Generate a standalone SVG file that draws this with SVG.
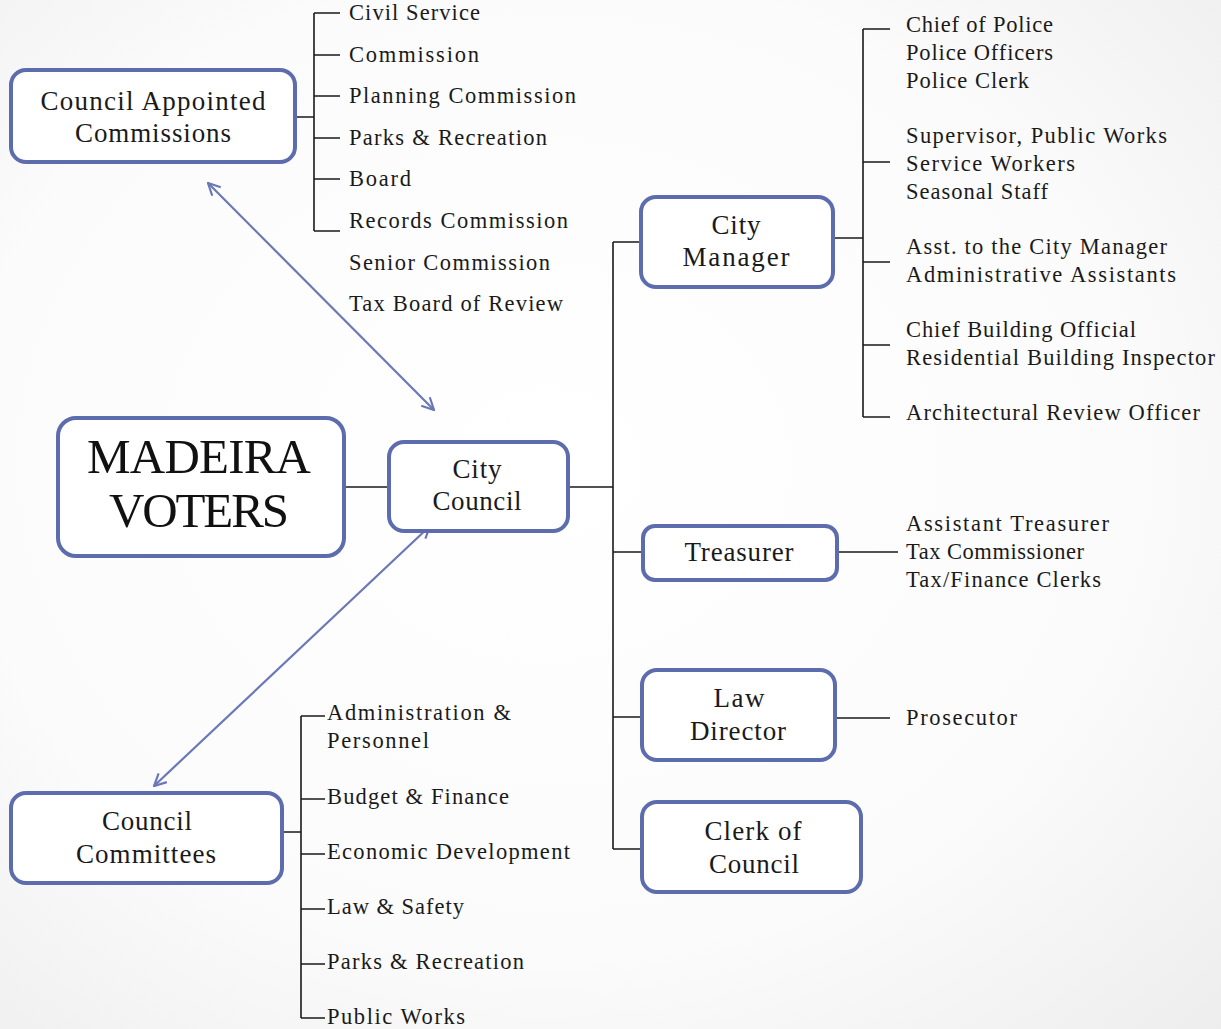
<svg xmlns="http://www.w3.org/2000/svg" width="1221" height="1029" viewBox="0 0 1221 1029">
<defs>
<radialGradient id="bg" cx="0.45" cy="0.45" r="0.8">
<stop offset="0" stop-color="#ffffff"/>
<stop offset="0.6" stop-color="#fbfbfb"/>
<stop offset="1" stop-color="#ececec"/>
</radialGradient>
<marker id="ah" viewBox="0 0 14 14" refX="13" refY="7" markerWidth="14" markerHeight="14" markerUnits="userSpaceOnUse" orient="auto-start-reverse">
<path d="M1,1 L13,7 L1,13" fill="none" stroke="#6a78b8" stroke-width="2.2"/>
</marker>
</defs>
<style>
.box{fill:#ffffff;stroke:#5d6cad;stroke-width:4}
.lbl{font-family:"Liberation Serif","DejaVu Serif",serif;font-size:27px;fill:#1a1a1a;text-anchor:middle}
.big{font-family:"Liberation Serif","DejaVu Serif",serif;font-size:49px;fill:#111;text-anchor:middle}
.it{font-family:"Liberation Serif","DejaVu Serif",serif;font-size:22.5px;fill:#1a1a1a}
.ln{stroke:#1a1a1a;stroke-width:1.6;fill:none}
.arr{stroke:#6a78b8;stroke-width:2.2;fill:none}
</style>
<rect x="0" y="0" width="1221" height="1029" fill="url(#bg)"/>

<g id="connectors">
<path class="ln" d="M345,487 H388"/>
<path class="ln" d="M569,487 H613 M613,242 V849 M613,242 H640 M613,552 H642 M613,717 H641 M613,849 H641"/>
<path class="ln" d="M834,238 H863 M863,29 V417 M863,29 H890 M863,162 H890 M863,262 H890 M863,345 H890 M863,417 H890"/>
<path class="ln" d="M838,552 H898"/>
<path class="ln" d="M836,718 H890"/>
<path class="ln" d="M296,117 H314 M314,13 V231 M314,13 H340 M314,55 H340 M314,96 H340 M314,138 H340 M314,179 H340 M314,231 H340"/>
<path class="ln" d="M283,832 H301 M301,716 V1018 M301,716 H325 M301,799 H325 M301,854 H325 M301,909 H325 M301,964 H325 M301,1018 H325"/>
<path class="arr" d="M208,183 L434,410" marker-start="url(#ah)" marker-end="url(#ah)"/>
<path class="arr" d="M430,526 L154,786" marker-start="url(#ah)" marker-end="url(#ah)"/>
</g>

<g id="council-appointed-commissions">
<rect class="box" x="11" y="70" width="284" height="92" rx="15"/>
<text class="lbl" x="153" y="110" textLength="225" lengthAdjust="spacing">Council  Appointed</text>
<text class="lbl" x="153" y="142" textLength="156" lengthAdjust="spacing">Commissions</text>
</g>
<g id="commissions-list">
<text class="it" x="349" y="20" textLength="131" lengthAdjust="spacing">Civil Service</text>
<text class="it" x="349" y="62" textLength="130" lengthAdjust="spacing">Commission</text>
<text class="it" x="349" y="103" textLength="227" lengthAdjust="spacing">Planning Commission</text>
<text class="it" x="349" y="145" textLength="198" lengthAdjust="spacing">Parks &amp; Recreation</text>
<text class="it" x="349" y="186" textLength="62" lengthAdjust="spacing">Board</text>
<text class="it" x="349" y="228" textLength="219" lengthAdjust="spacing">Records Commission</text>
<text class="it" x="349" y="270" textLength="201" lengthAdjust="spacing">Senior Commission</text>
<text class="it" x="349" y="311" textLength="214" lengthAdjust="spacing">Tax Board of Review</text>
</g>

<g id="madeira-voters">
<rect class="box" x="58" y="418" width="286" height="138" rx="18"/>
<text class="big" x="199" y="473" textLength="224" lengthAdjust="spacing">MADEIRA</text>
<text class="big" x="199" y="527" textLength="180" lengthAdjust="spacing">VOTERS</text>
</g>

<g id="city-council">
<rect class="box" x="389" y="442" width="179" height="89" rx="15"/>
<text class="lbl" x="477" y="478" textLength="49" lengthAdjust="spacing">City</text>
<text class="lbl" x="477" y="510" textLength="89" lengthAdjust="spacing">Council</text>
</g>

<g id="city-manager">
<rect class="box" x="641" y="197" width="192" height="90" rx="15"/>
<text class="lbl" x="736" y="234" textLength="49" lengthAdjust="spacing">City</text>
<text class="lbl" x="736" y="266" textLength="107" lengthAdjust="spacing">Manager</text>
</g>
<g id="city-manager-staff">
<text class="it" x="906" y="32" textLength="147" lengthAdjust="spacing">Chief of Police</text>
<text class="it" x="906" y="60" textLength="147" lengthAdjust="spacing">Police Officers</text>
<text class="it" x="906" y="88" textLength="123" lengthAdjust="spacing">Police Clerk</text>
<text class="it" x="906" y="143" textLength="261" lengthAdjust="spacing">Supervisor, Public Works</text>
<text class="it" x="906" y="171" textLength="169" lengthAdjust="spacing">Service Workers</text>
<text class="it" x="906" y="199" textLength="142" lengthAdjust="spacing">Seasonal Staff</text>
<text class="it" x="906" y="254" textLength="261" lengthAdjust="spacing">Asst. to the City Manager</text>
<text class="it" x="906" y="282" textLength="270" lengthAdjust="spacing">Administrative Assistants</text>
<text class="it" x="906" y="337" textLength="230" lengthAdjust="spacing">Chief Building Official</text>
<text class="it" x="906" y="365" textLength="309" lengthAdjust="spacing">Residential Building Inspector</text>
<text class="it" x="906" y="420" textLength="294" lengthAdjust="spacing">Architectural Review Officer</text>
</g>

<g id="treasurer">
<rect class="box" x="643" y="526" width="194" height="54" rx="12"/>
<text class="lbl" x="739" y="561" textLength="109" lengthAdjust="spacing">Treasurer</text>
</g>
<g id="treasurer-staff">
<text class="it" x="906" y="531" textLength="203" lengthAdjust="spacing">Assistant Treasurer</text>
<text class="it" x="906" y="559" textLength="178" lengthAdjust="spacing">Tax Commissioner</text>
<text class="it" x="906" y="587" textLength="195" lengthAdjust="spacing">Tax/Finance Clerks</text>
</g>

<g id="law-director">
<rect class="box" x="642" y="670" width="193" height="90" rx="15"/>
<text class="lbl" x="739" y="707" textLength="51" lengthAdjust="spacing">Law</text>
<text class="lbl" x="738" y="740" textLength="96" lengthAdjust="spacing">Director</text>
</g>
<g id="prosecutor">
<text class="it" x="906" y="725" textLength="111" lengthAdjust="spacing">Prosecutor</text>
</g>

<g id="clerk-of-council">
<rect class="box" x="642" y="802" width="219" height="90" rx="15"/>
<text class="lbl" x="753" y="840" textLength="97" lengthAdjust="spacing">Clerk  of</text>
<text class="lbl" x="754" y="873" textLength="90" lengthAdjust="spacing">Council</text>
</g>

<g id="council-committees">
<rect class="box" x="11" y="793" width="271" height="90" rx="15"/>
<text class="lbl" x="147" y="830" textLength="90" lengthAdjust="spacing">Council</text>
<text class="lbl" x="146" y="863" textLength="140" lengthAdjust="spacing">Committees</text>
</g>
<g id="committees-list">
<text class="it" x="327" y="720" textLength="184" lengthAdjust="spacing">Administration &amp;</text>
<text class="it" x="327" y="748" textLength="102" lengthAdjust="spacing">Personnel</text>
<text class="it" x="327" y="804" textLength="182" lengthAdjust="spacing">Budget  &amp; Finance</text>
<text class="it" x="327" y="859" textLength="243" lengthAdjust="spacing">Economic  Development</text>
<text class="it" x="327" y="914" textLength="137" lengthAdjust="spacing">Law &amp; Safety</text>
<text class="it" x="327" y="969" textLength="197" lengthAdjust="spacing">Parks &amp; Recreation</text>
<text class="it" x="327" y="1024" textLength="138" lengthAdjust="spacing">Public Works</text>
</g>
</svg>
